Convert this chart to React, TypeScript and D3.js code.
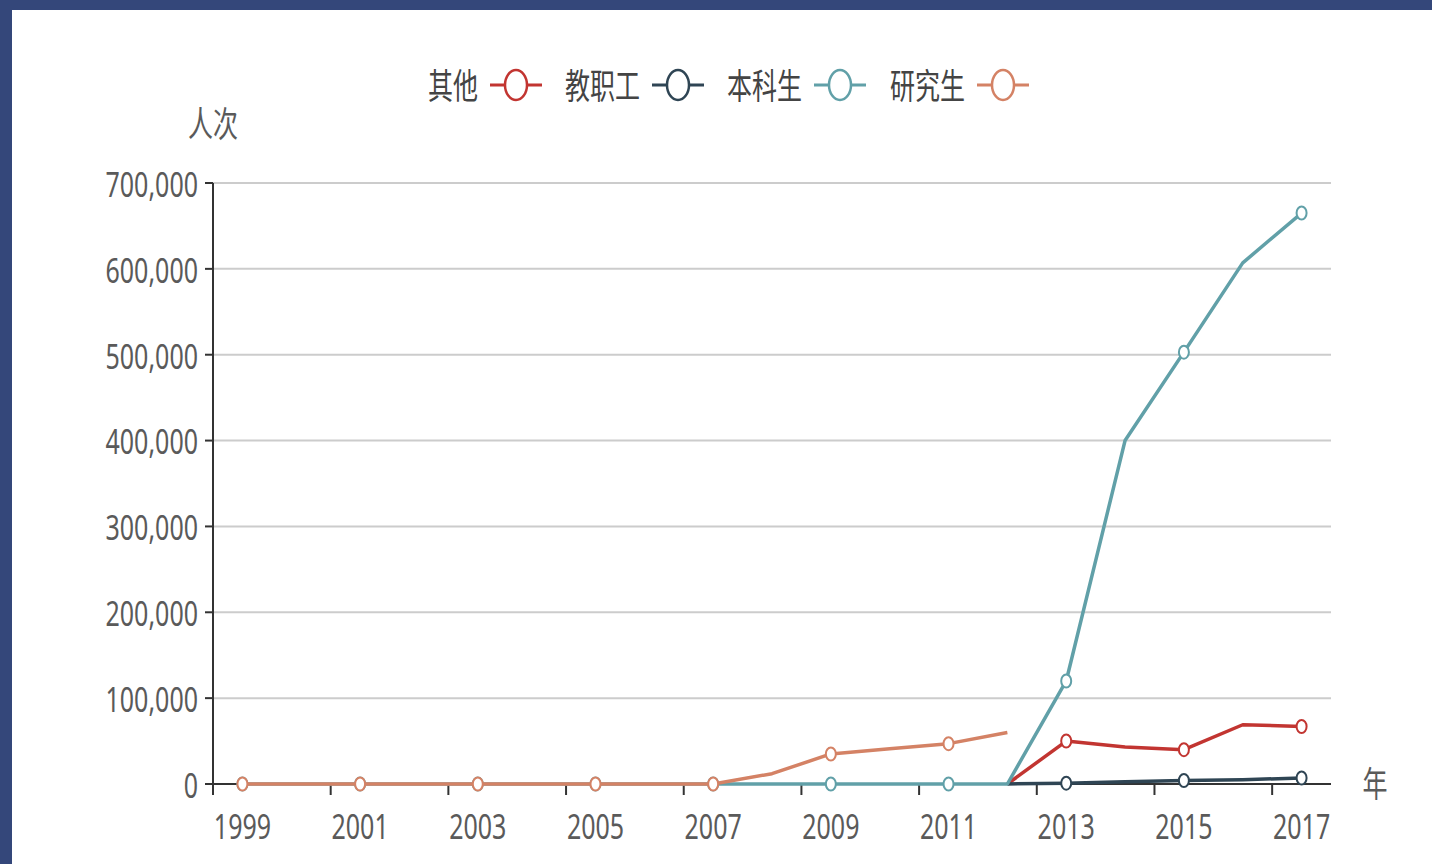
import * as d3 from "d3";

const years = [
  "1999", "2000", "2001", "2002", "2003", "2004", "2005", "2006", "2007", "2008",
  "2009", "2010", "2011", "2012", "2013", "2014", "2015", "2016", "2017",
];

const seriesNames = ["其他", "教职工", "本科生", "研究生"];
const colors = ["#c23531", "#2f4554", "#61a0a8", "#d48265"];

const qita = [null, null, null, null, null, null, null, null, null, null, null, null, null, 0, 50000, 43000, 40000, 69000, 67000];
const jiaozhigong = [null, null, null, null, null, null, null, null, null, null, null, null, null, 0, 1000, 2500, 4000, 5000, 7000];
const benkesheng = [0, 0, 0, 0, 0, 0, 0, 0, 0, 0, 0, 0, 0, 0, 120000, 400000, 503000, 607000, 665000];
const yanjiusheng = [0, 0, 0, 0, 0, 0, 0, 0, 0, 12000, 35000, 41000, 47000, 60000, null, null, null, null, null];

const yTicks = [0, 100000, 200000, 300000, 400000, 500000, 600000, 700000];

const allSeries: (number | null)[][] = [qita, jiaozhigong, benkesheng, yanjiusheng];

const W = 1432;
const H = 864;
const left = 213;
const right = 1331;
const top = 183;
const bottom = 784;

const FONT = "'Noto Sans', 'Noto Sans CJK SC', sans-serif";
const SY = 1.4;

function Txt(props: {
  x: number;
  y: number;
  anchor?: string;
  size?: number;
  fill?: string;
  children: string;
}) {
  const { x, y, anchor = "middle", size = 25, fill = "#5a5a5a" } = props;
  return (
    <text
      transform={`translate(${x},${y}) scale(1,${SY})`}
      textAnchor={anchor}
      dominantBaseline="central"
      fontFamily={FONT}
      fontSize={size}
      fill={fill}
    >
      {props.children}
    </text>
  );
}

export default function App() {
  const x = d3.scaleBand<string>().domain(years).range([left, right]).padding(0);
  const cx = (yr: string) => (x(yr) ?? 0) + x.bandwidth() / 2;
  const y = d3.scaleLinear().domain([0, 700000]).range([bottom, top]);

  const line = d3
    .line<number | null>()
    .defined((d) => d != null)
    .x((_, i) => cx(years[i]))
    .y((d) => y(d as number));

  const fmt = d3.format(",");

  // legend layout
  const legendX = [428, 565, 727, 890];
  const legendTextW = [50, 75, 75, 75];

  return (
    <svg
      width={W}
      height={H}
      style={{ position: "fixed", left: 0, top: 0, display: "block" }}
    >
      <rect x={0} y={0} width={W} height={H} fill="#34477a" />
      <rect x={12} y={10} width={W - 12} height={H - 10} fill="#ffffff" />

      {/* grid */}
      {yTicks.slice(1).map((t) => (
        <line key={t} x1={left} x2={right} y1={y(t)} y2={y(t)} stroke="#cccccc" strokeWidth={2} />
      ))}

      {/* y axis */}
      <line x1={left} x2={left} y1={top} y2={bottom + 11} stroke="#333" strokeWidth={2} />
      {yTicks.map((t) => (
        <g key={t}>
          <line x1={left - 8} x2={left} y1={y(t)} y2={y(t)} stroke="#333" strokeWidth={2} />
          <Txt x={left - 15} y={y(t)} anchor="end">
            {fmt(t)}
          </Txt>
        </g>
      ))}
      <Txt x={left} y={123} size={25}>
        人次
      </Txt>

      {/* x axis */}
      <line x1={left} x2={right} y1={bottom} y2={bottom} stroke="#333" strokeWidth={2} />
      {years.map((yr, i) =>
        i % 2 === 0 ? (
          <g key={yr}>
            <line
              x1={x(yr) ?? 0}
              x2={x(yr) ?? 0}
              y1={bottom}
              y2={bottom + 11}
              stroke="#333"
              strokeWidth={2}
            />
            <Txt x={cx(yr)} y={825}>
              {yr}
            </Txt>
          </g>
        ) : null
      )}
      <Txt x={1375} y={783} size={25}>
        年
      </Txt>

      {/* series */}
      {allSeries.map((s, si) => (
        <g key={si}>
          <path d={line(s) ?? ""} fill="none" stroke={colors[si]} strokeWidth={3.5} strokeLinejoin="round" />
          {s.map((v, i) =>
            v != null && i % 2 === 0 ? (
              <ellipse
                key={i}
                cx={cx(years[i])}
                cy={y(v)}
                rx={5}
                ry={6.5}
                fill="#fff"
                stroke={colors[si]}
                strokeWidth={2}
              />
            ) : null
          )}
        </g>
      ))}

      {/* legend */}
      {seriesNames.map((n, i) => {
        const ix = legendX[i] + legendTextW[i] + 12;
        return (
          <g key={n}>
            <Txt x={legendX[i]} y={85} anchor="start" size={25} fill="#444">
              {n}
            </Txt>
            <line x1={ix} x2={ix + 52} y1={85} y2={85} stroke={colors[i]} strokeWidth={3} />
            <ellipse cx={ix + 26} cy={85} rx={11} ry={15} fill="#fff" stroke={colors[i]} strokeWidth={2.5} />
          </g>
        );
      })}
    </svg>
  );
}
